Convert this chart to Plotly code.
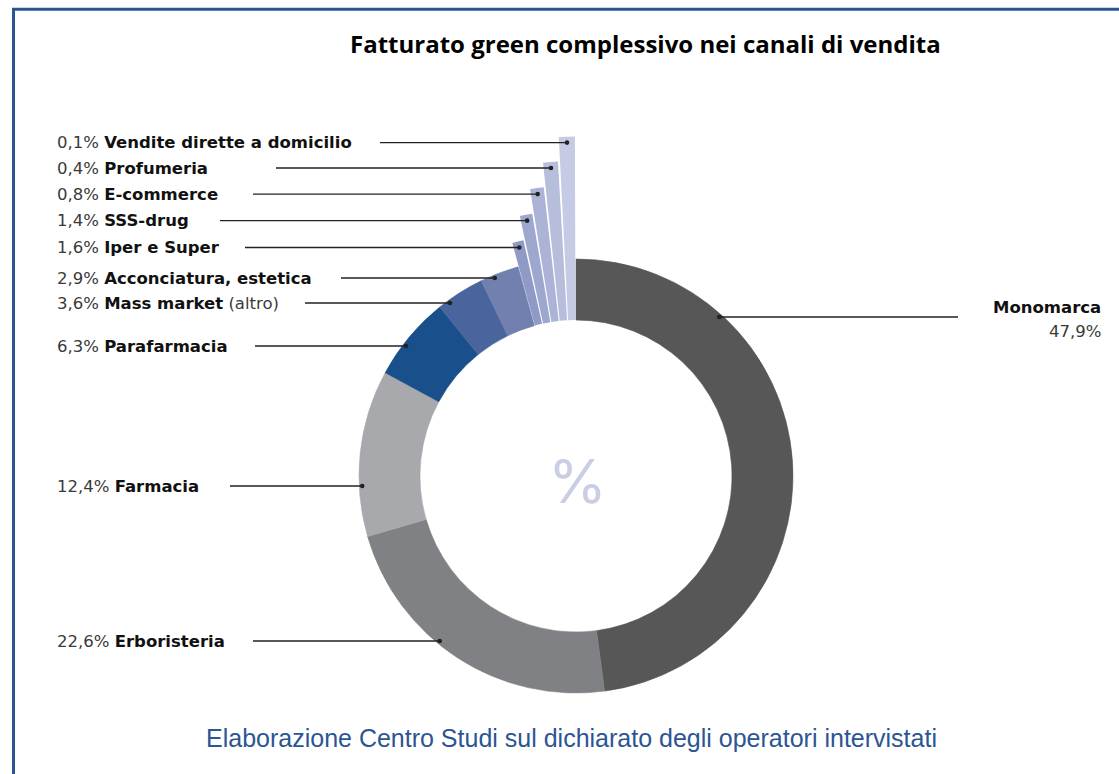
import math
import plotly.graph_objects as go

# ---------------- data ----------------
channels = ["Monomarca", "Erboristeria", "Farmacia", "Parafarmacia", "Mass market",
            "Acconciatura, estetica", "Iper e Super", "SSS-drug", "E-commerce",
            "Profumeria", "Vendite dirette a domicilio"]
shares = [47.9, 22.6, 12.4, 6.3, 3.6, 2.9, 1.6, 1.4, 0.8, 0.4, 0.1]
name_suffix = ["", "", "", "", " (altro)", "", "", "", "", "", ""]
title_text = "Fatturato green complessivo nei canali di vendita"
caption_text = "Elaborazione Centro Studi sul dichiarato degli operatori intervistati"

# ---------------- style ----------------
colors = ["#575757", "#808184", "#a7a9ac", "#19508c", "#4a649d", "#7280b0",
          "#8f9ac6", "#9ea8cf", "#abb3d6", "#b7bedc", "#c5cbe4"]
N_RING = 6                      # first six channels drawn on the ring
W, H = 1119, 774
CX, CY = 576, 476               # donut centre (px)
R_IN, R_OUT = 156, 217          # ring radii (px)
STEP = 24.5                     # extra length of each decorative tail bar
R1, R2 = 230, 345               # radius of the two polar frames (px)
label_y_ring = [None, 641, 486, 346, 303, 278]   # leader y for ring labels
leader_start_x = [958, 253, 230, 255, 305, 341, 245, 220, 253, 276, 380]
LABEL_X = 55
FONT = "DejaVu Sans"
LSIZE = 16.5

def px(x):
    return x / W

def py(y):
    return 1 - y / H

def fmt(v):
    return f"{v:.1f}".replace(".", ",") + "%"

# ---------------- geometry from data ----------------
total = sum(shares)
cum = 0.0
ring_theta, ring_width = [], []
for v in shares[:N_RING]:
    a = v / total * 360
    ring_theta.append(cum + a / 2)
    ring_width.append(a)
    cum += a
tail_start = cum
tail_span = sum(shares[N_RING:]) / total * 360
n_tail = len(shares) - N_RING
slot = tail_span / n_tail
tail_theta = [tail_start + slot * (i + 0.5) for i in range(n_tail)]
tail_width = [slot * 0.88] * n_tail
tail_outer = [R_OUT + STEP * (i + 1) for i in range(n_tail)]

fig = go.Figure()
fig.add_trace(go.Barpolar(
    theta=ring_theta, width=ring_width,
    r=[R_OUT - R_IN] * N_RING, base=[R_IN] * N_RING,
    marker=dict(color=colors[:N_RING], line=dict(color=colors[:N_RING], width=0.6)),
    subplot="polar", hoverinfo="skip", showlegend=False))
fig.add_trace(go.Barpolar(
    theta=tail_theta, width=tail_width,
    r=[o - R_IN for o in tail_outer], base=[R_IN] * n_tail,
    marker=dict(color=colors[N_RING:], line=dict(width=0)),
    subplot="polar2", hoverinfo="skip", showlegend=False))

ang = dict(rotation=90, direction="clockwise", visible=False)
fig.update_layout(
    width=W, height=H, margin=dict(l=0, r=0, t=0, b=0),
    paper_bgcolor="white", plot_bgcolor="white", hovermode=False,
    polar=dict(domain=dict(x=[px(CX - R1), px(CX + R1)], y=[py(CY + R1), py(CY - R1)]),
               radialaxis=dict(range=[0, R1], visible=False), angularaxis=ang,
               bgcolor="rgba(0,0,0,0)"),
    polar2=dict(domain=dict(x=[px(CX - R2), px(CX + R2)], y=[py(CY), py(CY - R2)]),
                sector=[0, 180],
                radialaxis=dict(range=[0, R2], visible=False), angularaxis=ang,
                bgcolor="rgba(0,0,0,0)"),
)

shapes = []
annotations = []
# border
shapes.append(dict(type="rect", xref="paper", yref="paper", x0=px(13.5), x1=1.05,
                   y0=-0.05, y1=py(9.3), line=dict(color="#2c5593", width=3)))

def leader(x0, x1, y):
    shapes.append(dict(type="line", xref="paper", yref="paper", x0=px(x0), x1=px(x1),
                       y0=py(y), y1=py(y), line=dict(color="#222222", width=1.4), layer="above"))
    r = 2.3
    shapes.append(dict(type="circle", xref="paper", yref="paper", x0=px(x1 - r), x1=px(x1 + r),
                       y0=py(y + r), y1=py(y - r), fillcolor="#222222", line=dict(width=0),
                       layer="above"))

def text_ann(x, y, text, size, color, family=FONT, xanchor="left"):
    annotations.append(dict(
        x=px(x), y=py(y), xref="paper", yref="paper", xanchor=xanchor, yanchor="middle",
        showarrow=False, font=dict(family=family, size=size, color=color), text=text))

def left_label(i, y):
    text_ann(LABEL_X, y,
             f"{fmt(shares[i])} <b><span style='color:#111'>{channels[i]}</span></b>{name_suffix[i]}",
             LSIZE, "#3a3a3a")

# ring labels
r_dot = R_OUT - 3
for i in range(N_RING):
    if i == 0:
        y = 317
        dx = math.sqrt(r_dot ** 2 - (y - CY) ** 2)
        leader(leader_start_x[i], CX + dx, y)
        continue
    y = label_y_ring[i]
    dx = math.sqrt(r_dot ** 2 - (y - CY) ** 2)
    leader(leader_start_x[i], CX - dx, y)
    left_label(i, y)

# tail labels
for k in range(n_tail):
    i = N_RING + k
    rd = tail_outer[k] - 6
    t = math.radians(tail_theta[k])
    x = CX + rd * math.sin(t)
    y = CY - rd * math.cos(t)
    leader(leader_start_x[i], x, y)
    left_label(i, y)

# Monomarca label (right)
text_ann(1103, 307, f"<b>{channels[0]}</b>", LSIZE, "#111", xanchor="right")
text_ann(1103, 331, fmt(shares[0]), LSIZE, "#3a3a3a", xanchor="right")
# centre symbol
text_ann(577, 481, "%", 60, "#c9cee5", family="Inter", xanchor="center")
# title
text_ann(645, 43, f"<b>{title_text}</b>", 24, "#000", family="Open Sans", xanchor="center")
# caption
text_ann(571, 738, caption_text, 25, "#2c5593", family="Liberation Sans", xanchor="center")

fig.update_layout(shapes=shapes, annotations=annotations)
fig.write_html("out.html", config={"displayModeBar": False, "staticPlot": True},
               post_script="document.body.style.margin='0px';")
